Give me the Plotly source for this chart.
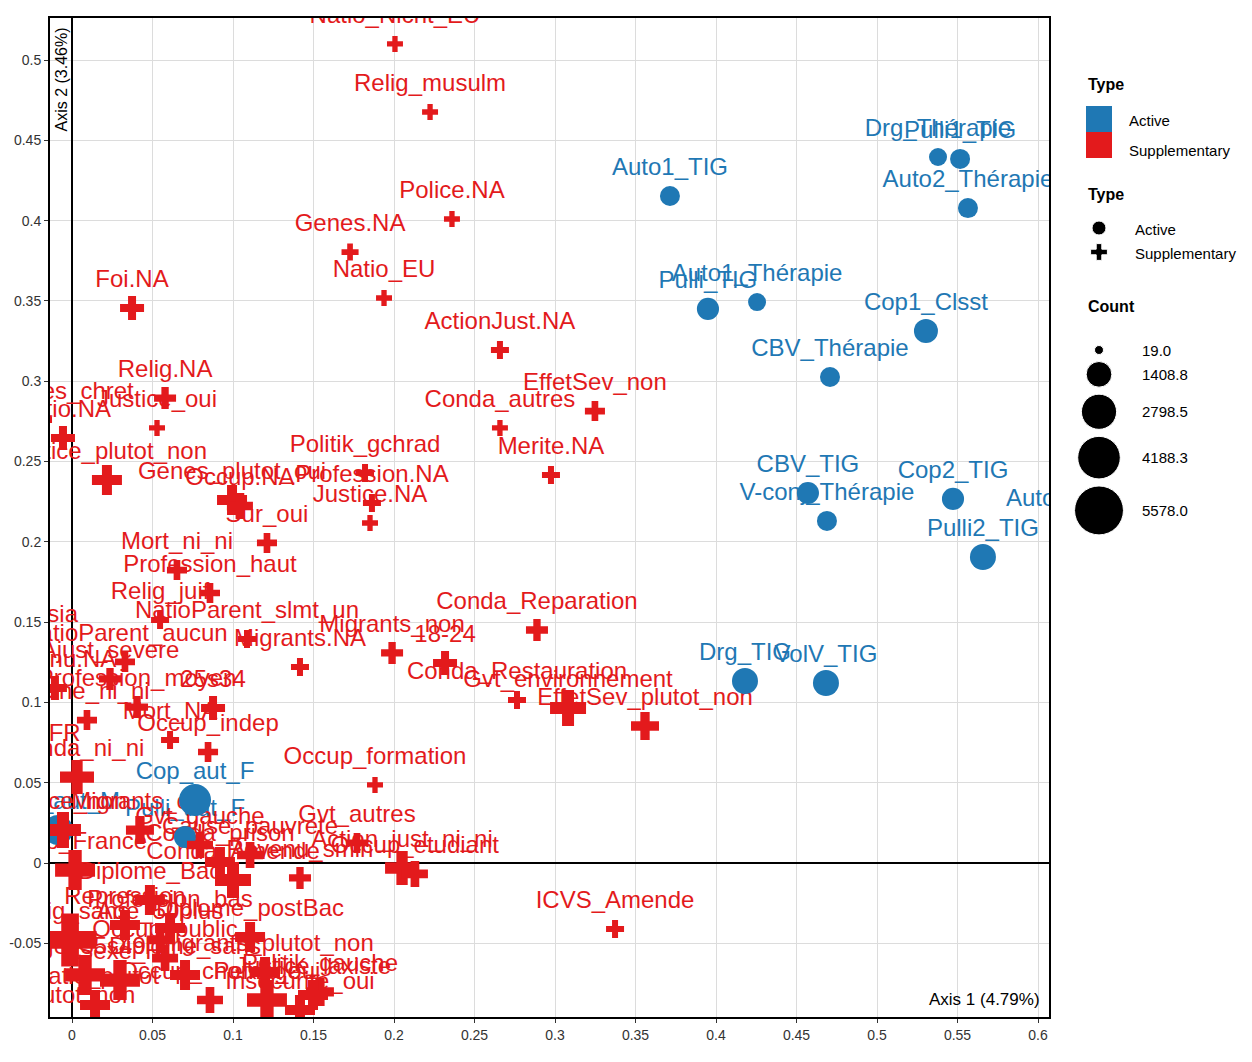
"""
Plan factoriel (ACM) : axes 1 et 2
Modalités actives et supplémentaires, taille selon l'effectif
"""

import math
import plotly.graph_objects as go

# Modalités actives (cercles bleus)
act_labels = ["Auto1_TIG", "Drg_Thérapie", "Pulli1_TIG", "Auto2_Thérapie", "Pulli_TIG",
              "Auto1_Thérapie", "Cop1_Clsst", "CBV_Thérapie", "CBV_TIG", "V-conj_Thérapie",
              "Cop2_TIG", "Auto2_TIG", "Pulli2_TIG", "Drg_TIG", "VolV_TIG",
              "Cop_aut_F", "Pulli_aut_F", "Cop_aut_M"]
act_x = [0.3714, 0.5379, 0.5516, 0.5565, 0.3950,
         0.4255, 0.5304, 0.4708, 0.4571, 0.4689,
         0.5472, 0.6161, 0.5658, 0.4180, 0.4683,
         0.0764, 0.0702, -0.0087]
act_y = [0.4153, 0.4396, 0.4384, 0.4078, 0.3450,
         0.3493, 0.3313, 0.3026, 0.2304, 0.2130,
         0.2267, 0.2092, 0.1905, 0.1133, 0.1121,
         0.0392, 0.0162, 0.0205]
act_count = [786, 603, 786, 786, 1000,
             603, 1210, 786, 1000, 786,
             1000, 1000, 1449, 1449, 1449,
             2286, 1000, 1988]

# Modalités supplémentaires (croix rouges)
sup_labels = ["Natio_Nicht_EU", "Relig_musulm", "Police.NA", "Genes.NA", "Natio_EU",
              "Foi.NA", "ActionJust.NA", "Relig.NA", "EffetSev_non", "Conda_autres",
              "Justice_oui", "Croyances_chret", "Natio.NA", "Justice_plutot_non", "Politik_gchrad",
              "Genes_plutot_oui", "Occup.NA", "Profession.NA", "Justice.NA", "Sur_oui",
              "Merite.NA", "Mort_ni_ni", "Profession_haut", "Relig_juif", "NatioParent_slmt_un",
              "Migrants.NA", "Migrants_non", "18-24", "Conda_Reparation", "Conda_Restauration",
              "Gvt_environnement", "EffetSev_plutot_non", "Occup_formation", "Gvt_autres", "Action_just_ni_ni",
              "Occup_etudiant", "ICVS_Amende", "Natio_Asia", "NatioParent_aucun", "Ajust_severe",
              "Revenu.NA", "Profession_moyen", "25s34", "Peine_ni_ni", "Mort_NA",
              "Occup_indep", "Natio_FR", "Conda_ni_ni", "Migrants_oui", "Cause_pauvrete",
              "Conda_Amende", "Revenu_smin", "Diplome_Bac", "Profession_bas", "Diplome_postBac",
              "Occup_public", "Migrants_plutot_non", "Politik_gauche", "Insecurite_oui", "Police_plutot_non",
              "Justice_non", "Natio_France", "Relig_sans", "Age_35s49", "Sexe_H",
              "Occup_chomage", "Peine_oui", "Justice_laxiste", "Repression", "Diplome_sans",
              "Conda_prison", "Natio_plutot", "Gvt_gauche", "Age_50plus"]
sup_x = [0.2006, 0.2224, 0.2360, 0.1727, 0.1938,
         0.0373, 0.2658, 0.0578, 0.3248, 0.2658,
         0.0528, -0.0180, -0.0056, 0.0217, 0.1820,
         0.0994, 0.1043, 0.1863, 0.1851, 0.1211,
         0.2975, 0.0652, 0.0857, 0.0547, 0.1087,
         0.1416, 0.1988, 0.2317, 0.2888, 0.2764,
         0.3081, 0.3559, 0.1882, 0.1770, 0.2050,
         0.2130, 0.3373, -0.0323, 0.0329, 0.0236,
         -0.0106, 0.0404, 0.0876, 0.0093, 0.0609,
         0.0845, -0.0261, 0.0031, 0.0422, 0.1106,
         0.1000, 0.1416, 0.0484, 0.0609, 0.1106,
         0.0578, 0.1199, 0.1540, 0.1416, -0.0199,
         -0.0056, 0.0019, -0.0012, 0.0081, 0.0298,
         0.0857, 0.1211, 0.1497, 0.0329, 0.0702,
         0.0919, 0.0143, 0.0795, 0.0547]
sup_y = [0.5100, 0.4676, 0.4010, 0.3804, 0.3518,
         0.3456, 0.3194, 0.2895, 0.2814, 0.2709,
         0.2709, 0.2758, 0.2646, 0.2385, 0.2428,
         0.2260, 0.2223, 0.2242, 0.2117, 0.1993,
         0.2416, 0.1824, 0.1681, 0.1513, 0.1395,
         0.1220, 0.1308, 0.1245, 0.1451, 0.1015,
         0.0965, 0.0853, 0.0486, 0.0125, -0.0031,
         -0.0068, -0.0411, 0.1370, 0.1252, 0.1146,
         0.1090, 0.0971, 0.0965, 0.0890, 0.0766,
         0.0691, 0.0629, 0.0535, 0.0205, 0.0050,
         -0.0106, -0.0093, -0.0230, -0.0405, -0.0461,
         -0.0592, -0.0679, -0.0803, -0.0915, -0.1002,
         0.0205, -0.0044, -0.0479, -0.0697, -0.0729,
         -0.0853, -0.0853, -0.0822, -0.0386, -0.0697,
         0.0006, -0.0884, 0.0112, -0.0479]
sup_count = [250, 250, 250, 310, 250,
             786, 365, 632, 495, 250,
             250, 365, 786, 1327, 365,
             1327, 954, 365, 250, 495,
             365, 495, 495, 365, 365,
             365, 632, 786, 632, 365,
             1988, 1132, 250, 495, 1752,
             954, 365, 365, 495, 632,
             786, 632, 786, 495, 365,
             495, 786, 1752, 1132, 954,
             1988, 632, 1327, 1327, 1327,
             954, 1327, 1132, 1327, 1327,
             1988, 2490, 4500, 2490, 2490,
             954, 2490, 1327, 1327, 1327,
             1327, 1327, 954, 954]

# Légende
type_names = ["Active", "Supplementary"]
count_breaks = [19.0, 1408.8, 2798.5, 4188.3, 5578.0]

x_ticks = [0, 0.05, 0.1, 0.15, 0.2, 0.25, 0.3, 0.35, 0.4, 0.45, 0.5, 0.55, 0.6]
y_ticks = [-0.05, 0, 0.05, 0.1, 0.15, 0.2, 0.25, 0.3, 0.35, 0.4, 0.45, 0.5]

BLUE = "#1F78B4"
RED = "#E31A1C"
FONT = "Liberation Sans, Arial, sans-serif"

# la page ajoute 8 px de marge autour du graphique
PAGE_OFF = 8
W, H = 1244, 1054
M_L, M_R, M_T, M_B = 42, 0, 10, 45
PANEL_R = 1041  # bord droit du panneau (px, repère figure)
X_END = (PANEL_R - M_L) / (W - M_L - M_R)
LEG_X0 = 0.85


def marker_px(count):
    # taille proportionnelle à l'aire
    return math.sqrt(81 + 0.416 * (count - 19))


def fmt(v):
    return "0" if v == 0 else ("%g" % v)


fig = go.Figure()

# Étiquettes (sous les points)
for labels, xs, ys, col in [(act_labels, act_x, act_y, BLUE), (sup_labels, sup_x, sup_y, RED)]:
    fig.add_trace(go.Scatter(
        x=xs, y=ys, mode="markers+text", text=labels,
        textposition="top center",
        textfont=dict(family=FONT, size=24, color=col),
        marker=dict(size=22, opacity=0),
        hoverinfo="skip", showlegend=False
    ))

# Points
fig.add_trace(go.Scatter(
    x=act_x, y=act_y, mode="markers",
    marker=dict(symbol="circle", color=BLUE, opacity=1, line=dict(width=0),
                size=[marker_px(c) for c in act_count]),
    text=act_labels, hovertemplate="%{text}<extra></extra>", showlegend=False
))
fig.add_trace(go.Scatter(
    x=sup_x, y=sup_y, mode="markers",
    marker=dict(symbol="cross", color=RED, opacity=1, line=dict(width=0),
                size=[marker_px(c) for c in sup_count]),
    text=sup_labels, hovertemplate="%{text}<extra></extra>", showlegend=False
))

# Légende dessinée dans un axe auxiliaire (coordonnées = pixels de la page)
leg_key_x = 1099
fig.add_trace(go.Scatter(
    x=[leg_key_x] * 2, y=[119, 145], mode="markers", xaxis="x2", yaxis="y2",
    marker=dict(symbol="square", size=26, color=[BLUE, RED], opacity=1),
    hoverinfo="skip", showlegend=False
))
fig.add_trace(go.Scatter(
    x=[leg_key_x] * 2, y=[228, 252], mode="markers", xaxis="x2", yaxis="y2",
    marker=dict(symbol=["circle", "cross"], size=[14, 14], color="black", opacity=1),
    hoverinfo="skip", showlegend=False
))
size_y = []
cur = 350
prev = None
for c in count_breaks:
    d = marker_px(c)
    if prev is not None:
        cur += prev / 2 + d / 2 + 7
    size_y.append(cur)
    prev = d
fig.add_trace(go.Scatter(
    x=[leg_key_x] * len(count_breaks), y=size_y, mode="markers", xaxis="x2", yaxis="y2",
    marker=dict(symbol="circle", color="black", opacity=1,
                size=[marker_px(c) for c in count_breaks]),
    hoverinfo="skip", showlegend=False
))

annotations = []


def leg_text(txt, x, y, size=15):
    annotations.append(dict(text=txt, x=x, y=y, xref="x2", yref="y2", xanchor="left",
                            yanchor="middle", showarrow=False,
                            font=dict(family=FONT, size=size, color="black")))


leg_text("<b>Type</b>", 1086, 84, 16)
for name, yy in zip(type_names, [120, 150]):
    leg_text(name, 1127, yy)
leg_text("<b>Type</b>", 1086, 194, 16)
for name, yy in zip(type_names, [229, 253]):
    leg_text(name, 1133, yy)
leg_text("<b>Count</b>", 1086, 306, 16)
for c, yy in zip(count_breaks, size_y):
    leg_text("%.1f" % c, 1140, yy)

# Titres d'axes à l'intérieur du panneau
annotations.append(dict(text="Axis 2 (3.46%)", x=0, y=1, xref="x", yref="y domain",
                        xanchor="right", yanchor="top", xshift=-1, yshift=-8,
                        textangle=-90, showarrow=False,
                        font=dict(family=FONT, size=16, color="black")))
annotations.append(dict(text="Axis 1 (4.79%)", x=1, y=0, xref="x domain", yref="y domain",
                        xanchor="right", yanchor="bottom", xshift=-7, yshift=6,
                        showarrow=False, font=dict(family=FONT, size=17, color="black")))

fig.update_layout(
    width=W, height=H,
    margin=dict(l=M_L, r=M_R, t=M_T, b=M_B, autoexpand=False),
    paper_bgcolor="white", plot_bgcolor="white",
    font=dict(family=FONT),
    annotations=annotations,
    xaxis=dict(
        domain=[0, X_END], automargin=False,
        range=[(50 - 72) / 1610, (1049 - 72) / 1610],
        tickvals=x_ticks, ticktext=[fmt(v) for v in x_ticks],
        tickfont=dict(size=14, color="#333333"),
        showgrid=True, gridcolor="#DCDCDC", gridwidth=1,
        zeroline=True, zerolinecolor="black", zerolinewidth=2,
        showline=True, mirror=True, linecolor="black", linewidth=2,
        ticks="outside", ticklen=4, tickcolor="#333333"
    ),
    yaxis=dict(
        automargin=False,
        range=[(863 - 1017) / 1606, (863 - 18) / 1606],
        tickvals=y_ticks, ticktext=[fmt(v) for v in y_ticks],
        tickfont=dict(size=14, color="#333333"),
        showgrid=True, gridcolor="#DCDCDC", gridwidth=1,
        zeroline=True, zerolinecolor="black", zerolinewidth=2,
        showline=True, mirror=True, linecolor="black", linewidth=2,
        ticks="outside", ticklen=4, tickcolor="#333333"
    ),
    xaxis2=dict(domain=[LEG_X0, 1], anchor="y2", visible=False,
                range=[M_L + LEG_X0 * (W - M_L - M_R) + PAGE_OFF, W - M_R + PAGE_OFF]),
    yaxis2=dict(domain=[0, 1], anchor="x2", visible=False,
                range=[H - M_B + PAGE_OFF, M_T + PAGE_OFF]),
    showlegend=False
)

fig.write_html("out.html")
